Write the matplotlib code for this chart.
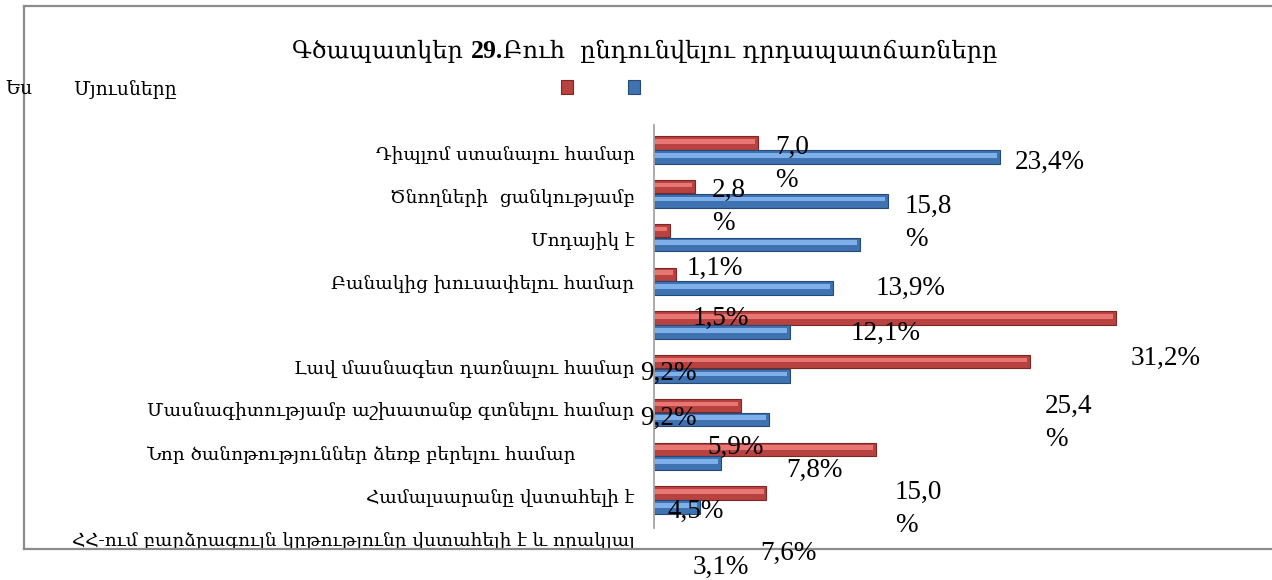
import matplotlib
matplotlib.use("Agg")
import matplotlib.pyplot as plt
from matplotlib.lines import Line2D
from matplotlib.patches import Rectangle
import numpy as np

# data
categories = ["Դիպլոմ ստանալու համար",
              "Ծնողների  ցանկությամբ",
              "Մոդայիկ է",
              "Բանակից խուսափելու համար",
              "",
              "Լավ մասնագետ դառնալու համար",
              "Մասնագիտությամբ աշխատանք գտնելու համար",
              "Նոր ծանոթություններ ձեռք բերելու համար          ",
              "Համալսարանը վստահելի է",
              "ՀՀ-ում բարձրագույն կրթությունը վստահելի է և որակյալ"]
series_names = ["Ես", "Մյուսները"]
me = [7.0, 2.8, 1.1, 1.5, 31.2, 25.4, 5.9, 15.0, 7.6]
others = [23.4, 15.8, 13.9, 12.1, 9.2, 9.2, 7.8, 4.5, 3.1]
me_labels = ["7,0\n%", "2,8\n%", "1,1%", "1,5%", "31,2%", "25,4\n%", "5,9%", "15,0\n%", "7,6%"]
others_labels = ["23,4%", "15,8\n%", "13,9%", "12,1%", "9,2%", "9,2%", "7,8%", "4,5%", "3,1%"]

# label spots in pixels (left x, center y) as they sit in the source picture
me_pos = [(775, 164), (712, 207), (687, 268), (693, 318), (1131, 358),
          (1045, 423), (707, 447), (895, 509), (760, 553)]
others_pos = [(1015, 162), (905, 223), (876, 288), (851, 333), (640, 373),
              (640, 418), (786, 470), (667, 511), (693, 567)]

W, H = 1272, 580
ARM = ["DejaVu Serif"]
NUM = ["Liberation Serif", "DejaVu Serif"]

def px(x, y):
    return x / W, 1 - y / H

fig = plt.figure(figsize=(W / 100, H / 100), dpi=100)
fig.patch.set_facecolor("white")

# axes: zero at x=654px, 14.8 px per percent, groups every 43.75px from y=150
x0, x1 = 654, 1250
ytop, ybot = -0.571, 9.2
ax = fig.add_axes([x0 / W, 1 - (150 + ybot * 43.75) / H, (x1 - x0) / W,
                   (ybot - ytop) * 43.75 / H])
ax.set_xlim(0, (x1 - x0) / 14.8)
ax.set_ylim(ybot, ytop)
ax.patch.set_alpha(0)

pos = np.arange(len(me))
red = ["#B8423F", "#E87773", "#7E2624"]
blue = ["#3F72B0", "#7FB0EA", "#264A78"]

def bevel_bars(y, vals, c, h):
    ax.barh(y, vals, height=h, color=c[0], edgecolor=c[2], linewidth=0.8, zorder=2)
    ax.barh(y - h * 0.12, np.array(vals) - 0.25, left=0.05, height=h * 0.35,
            color=c[1], linewidth=0, zorder=3)

bevel_bars(pos - 0.16, me, red, 0.30)
bevel_bars(pos + 0.16, others, blue, 0.31)

for s in ["top", "right", "bottom"]:
    ax.spines[s].set_visible(False)
ax.spines["left"].set_color("#A6A6A6")
ax.spines["left"].set_linewidth(1.3)
ax.spines["left"].set_bounds(ytop, 8.64)
ax.set_xticks([])
ticks = np.arange(len(categories)) * 0.98 + 0.07
ax.set_yticks(ticks)
ax.set_yticklabels(categories, family=ARM, fontsize=13.3)
ax.tick_params(axis="y", length=0, pad=14)

# value labels
for labels, spots in [(me_labels, me_pos), (others_labels, others_pos)]:
    for t, (x, y) in zip(labels, spots):
        fig.text(*px(x, y), t, family=NUM, fontsize=19.5, ha="left", va="center",
                 linespacing=1.4)

# title with bold number
t1 = fig.text(*px(292, 58), "Գծապատկեր ", family=ARM, fontsize=17.3, va="baseline")
t2 = ax.annotate("29.", xy=(1, 0), xycoords=t1, family=NUM, fontsize=18.5,
                 fontweight="bold", va="bottom", annotation_clip=False)
ax.annotate("Բուհ  ընդունվելու դրդապատճառները", xy=(1, 0), xycoords=t2,
            family=ARM, fontsize=17.3, va="bottom", annotation_clip=False)

# legend, scattered like the source
fig.text(*px(5, 90), series_names[0], family=ARM, fontsize=13.5, va="center")
fig.text(*px(73, 90), series_names[1], family=ARM, fontsize=13.5, va="center")
for xl, c in [(561, red), (628, blue)]:
    fig.add_artist(Rectangle(px(xl, 94), 12 / W, 14 / H, transform=fig.transFigure,
                             facecolor=c[0], edgecolor=c[2], linewidth=0.8))

# chart frame
fc = "#8C8C8C"
fig.add_artist(Line2D([24 / W, 1], [1 - 6 / H] * 2, color=fc, lw=1.6))
fig.add_artist(Line2D([24 / W] * 2, [1 - 6 / H, 1 - 549 / H], color=fc, lw=1.6))
fig.add_artist(Line2D([24 / W, 1], [1 - 549 / H] * 2, color=fc, lw=1.6))

fig.savefig("out.png", dpi=100)
